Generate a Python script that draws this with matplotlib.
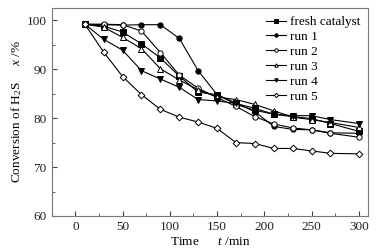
import matplotlib
matplotlib.use("Agg")
import matplotlib.pyplot as plt
from matplotlib.ticker import MultipleLocator

plt.rcParams['font.family'] = ['Liberation Serif', 'DejaVu Serif']
plt.rcParams['mathtext.fontset'] = 'custom'
plt.rcParams['mathtext.rm'] = 'Liberation Serif'
plt.rcParams['mathtext.it'] = 'Liberation Serif:italic'

# time points (min)
t = [10, 30, 50, 70, 90, 110, 130, 150, 170, 190, 210, 230, 250, 270, 300]

fresh = [99.2, 98.8, 97.6, 95.2, 92.3, 88.6, 85.3, 84.8, 82.8, 81.6, 80.8, 80.3, 79.9, 78.9, 77.3]
run1 = [99.2, 99.1, 99.0, 99.1, 99.1, 96.3, 89.7, 84.8, 83.1, 81.3, 78.3, 77.7, 77.6, 77.0, 76.9]
run2 = [99.2, 99.2, 99.1, 97.8, 93.4, 88.8, 86.1, 84.2, 82.4, 80.3, 78.8, 78.0, 77.6, 76.9, 76.1]
run3 = [99.2, 98.6, 96.5, 94.2, 90.1, 87.8, 85.8, 84.3, 83.8, 82.8, 81.5, 80.2, 79.7, 79.1, 78.1]
run4 = [99.2, 96.1, 93.9, 89.7, 88.0, 86.3, 83.8, 83.5, 83.0, 82.0, 80.8, 80.5, 80.5, 79.7, 78.9]
run5 = [99.2, 93.5, 88.5, 84.8, 81.8, 80.2, 79.2, 77.9, 75.0, 74.8, 73.8, 73.8, 73.3, 72.8, 72.7]

fig = plt.figure(figsize=(3.86, 2.52), dpi=100)
ax = fig.add_axes([0.134, 0.143, 0.820, 0.825])

kw = dict(color='black', lw=0.8, ms=3.8, mew=0.7)
ax.plot(t, fresh, marker='s', mfc='black', label='fresh catalyst', **kw)
ax.plot(t, run1, marker='o', mfc='black', label='run 1', **kw)
ax.plot(t, run2, marker='o', mfc='white', label='run 2', **kw)
ax.plot(t, run3, marker='^', mfc='white', label='run 3', **kw)
ax.plot(t, run4, marker='v', mfc='black', label='run 4', **kw)
ax.plot(t, run5, marker='D', mfc='white', ms=3.4, label='run 5',
        color='black', lw=0.8, mew=0.7)

ax.set_xlim(-25, 310)
ax.set_ylim(60, 102.5)
ax.xaxis.set_major_locator(MultipleLocator(50))
ax.xaxis.set_minor_locator(MultipleLocator(25))
ax.yaxis.set_major_locator(MultipleLocator(10))
ax.yaxis.set_minor_locator(MultipleLocator(5))
ax.tick_params(which='both', direction='in', labelsize=9.5, color='#444444',
               labelcolor='#222222')
ax.tick_params(which='major', length=3.5)
ax.tick_params(which='minor', length=2)
for s in ax.spines.values():
    s.set_color('#777777')
    s.set_linewidth(0.8)

ax.set_xlabel('Time      $\\it{t}$ /min', fontsize=9.5, labelpad=2)
ax.set_ylabel('Conversion of H$_2$S     $\\it{x}$ /%', fontsize=9.5, labelpad=2)

ax.legend(loc='upper right', frameon=False, fontsize=9.5, handlelength=1.5,
          handletextpad=0.3, labelspacing=0.2, borderaxespad=0.2,
          markerscale=0.65)

fig.savefig('out.png', dpi=100)
